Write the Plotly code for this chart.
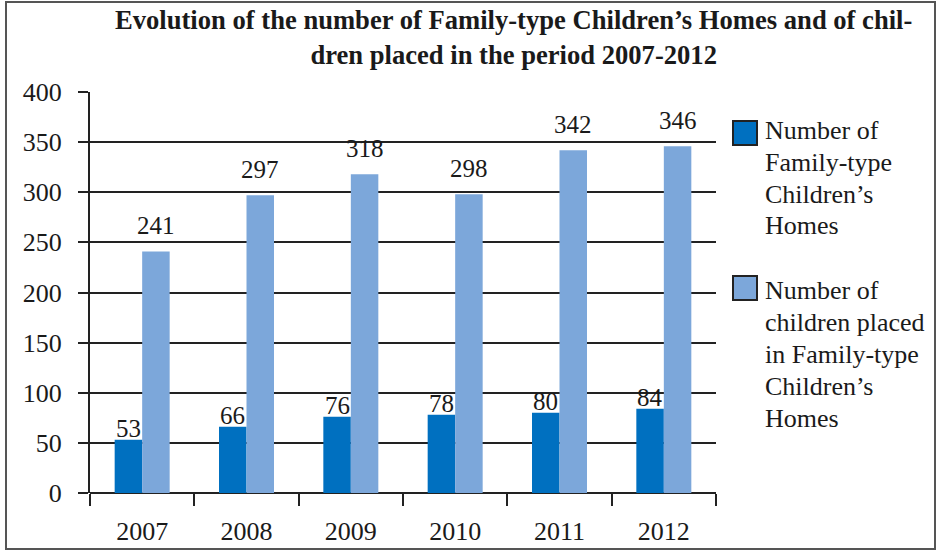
import plotly.graph_objects as go

years = ["2007", "2008", "2009", "2010", "2011", "2012"]
homes = [53, 66, 76, 78, 80, 84]
children = [241, 297, 318, 298, 342, 346]
series_names = [["Number of", "Family-type", "Children’s", "Homes"],
                ["Number of", "children placed", "in Family-type", "Children’s", "Homes"]]
colors = ["#0070C0", "#7CA7DA"]
title_lines = ["Evolution of the number of Family-type Children’s Homes and of chil-",
               "dren placed in the period 2007-2012"]
y_ticks = [0, 50, 100, 150, 200, 250, 300, 350, 400]

W, H = 940, 552
L, R, T, B = 90, 716, 92, 493
FONT = "Liberation Serif"
FS = 26
TXT = "#1a1a1a"


def px(x):
    return (x - L) / (R - L)


def py(y):
    return (B - y) / (B - T)


fig = go.Figure()
for name, vals, col in zip(series_names, [homes, children], colors):
    fig.add_trace(go.Bar(x=years, y=vals, name=" ".join(name), marker=dict(color=col, line=dict(width=0)),
                         showlegend=False, hoverinfo="skip"))

annotations = []
bar_w = 27.5
for vals, shift, ysh in [(homes, -bar_w / 2, -4), (children, bar_w / 2, 10)]:
    for idx, v in enumerate(vals):
        annotations.append(dict(x=idx, y=v, xref="x", yref="y", text=str(v), showarrow=False,
                                xshift=shift, yshift=ysh, yanchor="bottom", xanchor="center",
                                font=dict(family=FONT, size=25, color=TXT)))

# title (two lines)
annotations.append(dict(x=px(513), y=py(37), xref="paper", yref="paper",
                        text="<br>".join(f"<b>{t}</b>" for t in title_lines),
                        showarrow=False, xanchor="center", yanchor="middle", align="center",
                        font=dict(family=FONT, size=26.6, color=TXT)))

# legend drawn manually (large square swatches)
legend_pos = [(133, 130), (288, 290)]
shapes = []
for (sq_y, txt_y), name, col in zip(legend_pos, series_names, colors):
    shapes.append(dict(type="rect", xref="paper", yref="paper",
                       x0=px(733), x1=px(757), y0=py(sq_y + 12), y1=py(sq_y - 12),
                       fillcolor=col, line=dict(color="#222222", width=2)))
    for k, line in enumerate(name):
        annotations.append(dict(x=px(763), y=py(txt_y + 32 * k), xref="paper", yref="paper", text=line,
                                showarrow=False, xanchor="left", yanchor="middle", align="left",
                                font=dict(family=FONT, size=FS, color=TXT)))

# outer frame
shapes.append(dict(type="rect", xref="paper", yref="paper", x0=px(6), x1=px(935), y0=py(549), y1=py(2),
                   line=dict(color="#555555", width=2), fillcolor="rgba(0,0,0,0)", layer="below"))

fig.update_layout(
    width=W, height=H,
    margin=dict(l=L, r=W - R, t=T, b=H - B, autoexpand=False),
    paper_bgcolor="white", plot_bgcolor="white",
    barmode="group", bargap=1 - 55 / ((R - L) / 6), bargroupgap=0,
    font=dict(family=FONT, size=FS, color=TXT),
    annotations=annotations, shapes=shapes,
    hovermode=False,
    xaxis=dict(type="category", categoryorder="array", categoryarray=years,
               range=[-0.5, len(years) - 0.5], autorange=False, automargin=False,
               tickson="boundaries", ticks="outside", ticklen=12, tickwidth=2,
               tickcolor="#222222", showline=False, showgrid=False, ticklabelstandoff=20,
               tickangle=0, tickfont=dict(family=FONT, size=FS, color=TXT)),
    yaxis=dict(range=[0, 400], tickvals=y_ticks, ticks="outside", ticklen=10, tickwidth=2,
               tickcolor="#222222", showline=True, linecolor="#222222", linewidth=2,
               showgrid=True, gridcolor="#222222", gridwidth=2, zeroline=True, automargin=False,
               zerolinecolor="#222222", zerolinewidth=2, ticklabelstandoff=11,
               tickfont=dict(family=FONT, size=FS, color=TXT)),
)

fig.write_html("out.html", config={"displayModeBar": False},
               post_script="document.body.style.margin='0';document.body.style.padding='0';")
